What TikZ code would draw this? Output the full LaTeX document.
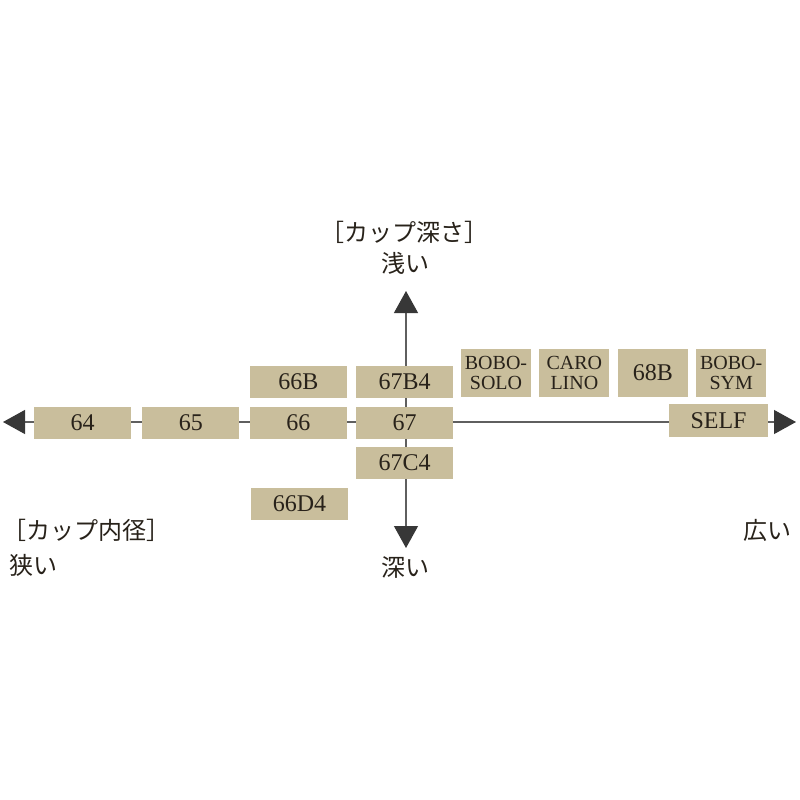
\documentclass[tikz,border=0pt]{standalone}
\usepackage{fontspec}
\setmainfont{Liberation Serif}
\newfontfamily\jpfont{Noto Sans CJK JP}
\usetikzlibrary{positioning,arrows.meta}
\definecolor{boxtan}{RGB}{201,190,156}
\definecolor{inkdark}{RGB}{40,34,26}
\definecolor{axisgray}{RGB}{95,95,95}
\definecolor{tipgray}{RGB}{55,55,55}

\tikzset{
  cup/.style={fill=boxtan, text=inkdark, minimum width=97, minimum height=32, inner sep=0pt, font=\fontsize{24}{24}\selectfont},
  cuptwo/.style={cup, minimum width=70, minimum height=48, align=center, font=\fontsize{20}{20}\selectfont},
  axis/.style={draw=axisgray, line width=1.2pt, -{Triangle[length=22pt,width=24pt,color=tipgray]}},
  jp/.style={text=inkdark, font=\jpfont\fontsize{24}{28}\selectfont, inner sep=0pt}
}

\begin{document}
\begin{tikzpicture}[x=1pt,y=-1pt]
            \useasboundingbox (0,0) rectangle (800,800);

            % axes
            \coordinate (o) at (406,422);
            \coordinate (narrow) at (3,422);
            \coordinate (wide) at (796,422);
            \coordinate (shallow) at (406,291);
            \coordinate (deep) at (406,548);

            \draw[axis] (o) -- (narrow);
            \draw[axis] (o) -- (wide);
            \draw[axis] (o) -- (shallow);
            \draw[axis] (o) -- (deep);

            % models
            \node (c64) at (82.5,422.5) [cup] {64};
            \node (c65) [cup, right=11pt of c64] {65};
            \node (c66) [cup, right=10pt of c65] {66};
            \node (c67) [cup, right=9pt of c66] {67};
            \node (c66b) [cup, above=8pt of c66] {66B};
            \node (c67b4) [cup, above=8pt of c67] {67B4};
            \node (c67c4) [cup, below=8pt of c67] {67C4};
            \node (c66d4) at (299.5,503.5) [cup] {66D4};
            \node (cself) at (718.5,420.5) [cup, minimum width=99, minimum height=33] {SELF};

            \node (cbobosolo) at (496,373) [cuptwo] {BOBO-\\SOLO};
            \node (ccarolino) [cuptwo, right=8pt of cbobosolo] {CARO\\LINO};
            \node (c68b) [cuptwo, right=8pt of ccarolino, font=\fontsize{24}{24}\selectfont] {68B};
            \node (cbobosym) [cuptwo, right=8pt of c68b] {BOBO-\\SYM};

            % labels
            \node (depthtitle) at (404,232) [jp] {［カップ深さ］};
            \node (shallowtxt) at (405,263) [jp] {浅い};
            \node (deeptxt) at (405,568) [jp] {深い};
            \node (diamtitle) at (2,530) [jp, anchor=west] {［カップ内径］};
            \node (narrowtxt) at (9,565) [jp, anchor=west] {狭い};
            \node (widetxt) at (767,530) [jp] {広い};

        \end{tikzpicture}
\end{document}
